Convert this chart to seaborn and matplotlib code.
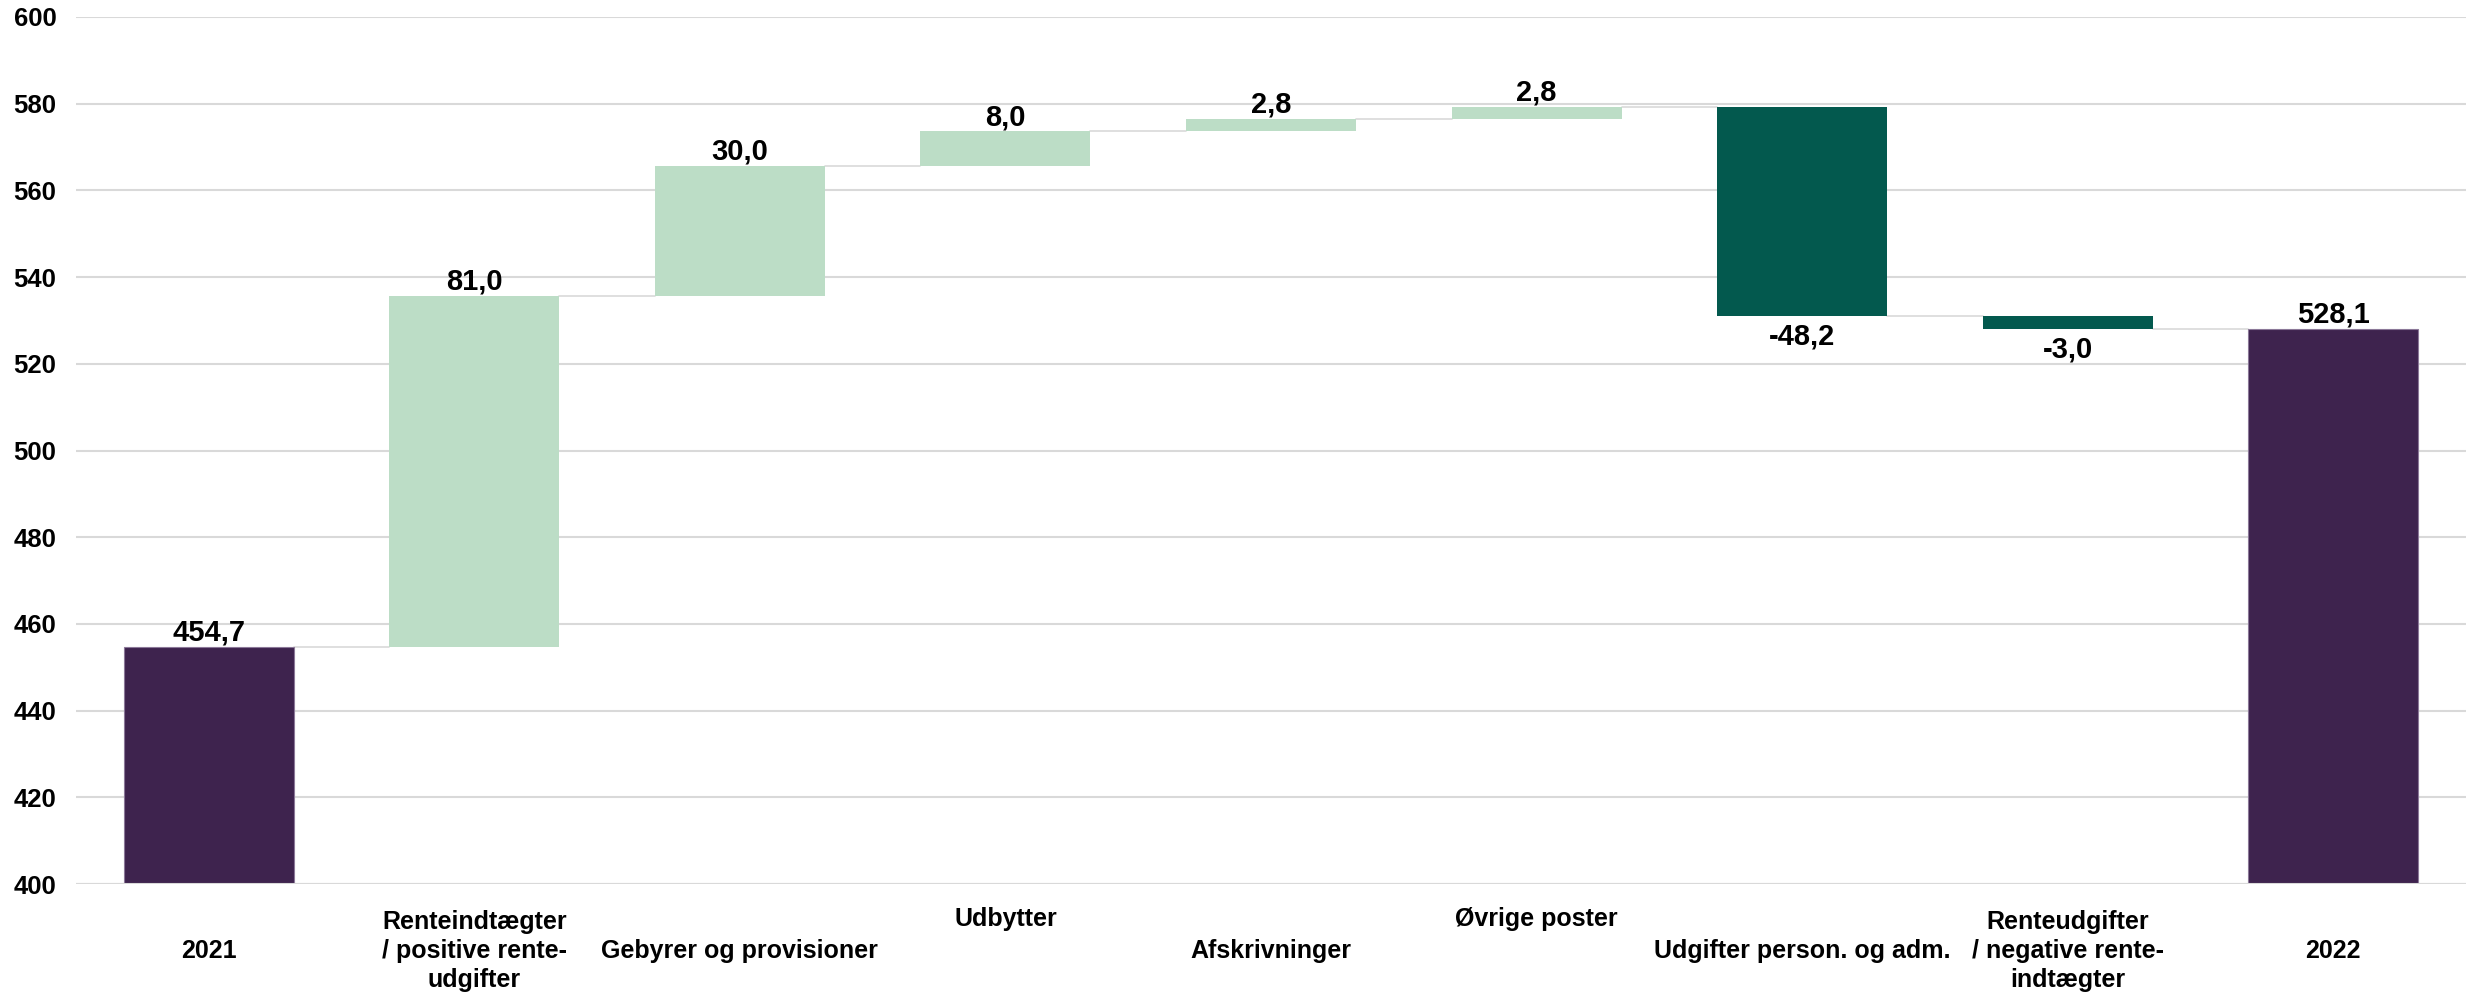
import matplotlib
matplotlib.use("Agg")
import matplotlib.pyplot as plt
import seaborn as sns
import numpy as np

sns.set_style("white")
plt.rcParams['font.family'] = ['Liberation Sans', 'DejaVu Sans']
plt.rcParams['font.weight'] = 'bold'
plt.rcParams['text.color'] = 'black'
plt.rcParams['ytick.color'] = 'black'
plt.rcParams['xtick.color'] = 'black'

# data
categories = ["2021", "Renteindtægter\n/ positive rente-\nudgifter", "Gebyrer og provisioner",
              "Udbytter", "Afskrivninger", "Øvrige poster", "Udgifter person. og adm.",
              "Renteudgifter\n/ negative rente-\nindtægter", "2022"]
start_value = 454.7
changes = [81.0, 30.0, 8.0, 2.8, 2.8, -48.2, -3.0]
end_value = 528.1
value_labels = ["454,7", "81,0", "30,0", "8,0", "2,8", "2,8", "-48,2", "-3,0", "528,1"]
raised = [False, False, False, True, False, True, False, False, False]
axis_floor = 400

PURPLE = "#3E234E"
LIGHT_GREEN = "#BCDDC6"
DARK_GREEN = "#03594E"
GRID = "#D9D9D9"

# build waterfall bottoms/heights
bottoms = [axis_floor]
heights = [start_value - axis_floor]
kinds = ["total"]
running = start_value
levels = [start_value]
for c in changes:
    new = running + c
    bottoms.append(min(running, new))
    heights.append(abs(c))
    kinds.append("up" if c > 0 else "down")
    running = new
    levels.append(running)
bottoms.append(axis_floor)
heights.append(end_value - axis_floor)
kinds.append("total")
levels.append(end_value)
tops = [b + h for b, h in zip(bottoms, heights)]

fig = plt.figure(figsize=(24.66, 9.94), dpi=100)
ax = fig.add_axes([76 / 2466, 110 / 994, (2466 - 76) / 2466, 867 / 994])

bar_w = 0.64
x_idx = list(range(len(categories)))
sns.barplot(x=x_idx, y=heights, bottom=bottoms, color=PURPLE, width=bar_w,
            errorbar=None, ax=ax, native_scale=True, zorder=2)

colors = {"total": PURPLE, "up": LIGHT_GREEN, "down": DARK_GREEN}
for patch, kind in zip(ax.patches, kinds):
    patch.set_facecolor(colors[kind])
    if kind == "total":
        patch.set_edgecolor("#8B7898")
        patch.set_linewidth(0.8)
    else:
        patch.set_edgecolor("none")

# connector lines
for i in range(len(categories) - 1):
    ax.plot([i + bar_w / 2, i + 1 - bar_w / 2], [levels[i], levels[i]],
            color=GRID, lw=1.2, zorder=1)

# value labels
for i, (lab, kind) in enumerate(zip(value_labels, kinds)):
    if kind == "down":
        ax.annotate(lab, (i, bottoms[i]), xytext=(0, -5), textcoords="offset points",
                    ha="center", va="top", fontsize=21, fontweight="bold", color="black")
    else:
        ax.annotate(lab, (i, tops[i]), xytext=(0, 0), textcoords="offset points",
                    ha="center", va="bottom", fontsize=21, fontweight="bold", color="black")

ax.set_xlim(-0.5, len(categories) - 0.5)
ax.set_ylim(400, 600)
ax.set_yticks(np.arange(400, 601, 20))
ax.yaxis.grid(True, color=GRID, lw=1.5, zorder=0)
ax.set_axisbelow(True)
ax.axhline(axis_floor, color=GRID, lw=1.5, zorder=3)
ax.tick_params(axis="y", length=0, pad=14, labelsize=18.5, labelcolor="black")
ax.tick_params(axis="x", length=0)
ax.set_xticks(x_idx)
ax.set_xticklabels([])
ax.set_xlabel("")
ax.set_ylabel("")
for lbl in ax.get_yticklabels():
    lbl.set_fontweight("bold")
for s in ax.spines.values():
    s.set_visible(False)

trans = ax.get_xaxis_transform()
for i, (cat, up) in enumerate(zip(categories, raised)):
    ax.text(i, -0.040 if up else -0.0775, cat, transform=trans, ha="center", va="center",
            fontsize=18, fontweight="bold", linespacing=1.25, multialignment="center",
            color="black")

fig.savefig("out.png", dpi=100)
